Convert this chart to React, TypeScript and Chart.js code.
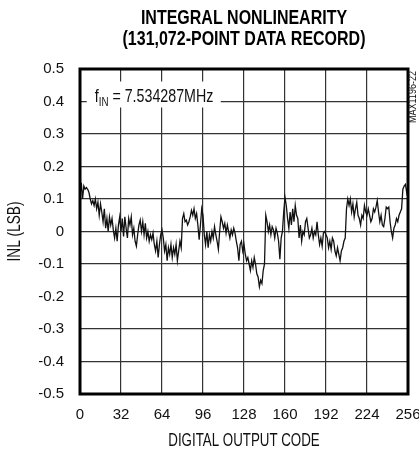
import { useEffect, useRef } from 'react';
import { Chart, registerables } from 'chart.js';

Chart.register(...registerables);

const TITLE_LINES = ['INTEGRAL NONLINEARITY', '(131,072-POINT DATA RECORD)'];
const X_TITLE = 'DIGITAL OUTPUT CODE';
const Y_TITLE = 'INL (LSB)';
const NOTE_MAIN = 'f';
const NOTE_SUB = 'IN';
const NOTE_REST = ' = 7.534287MHz';
const FIG_ID = 'MAX1196-22';

const X_TICKS = [0, 32, 64, 96, 128, 160, 192, 224, 256];
const Y_TICKS = [-0.5, -0.4, -0.3, -0.2, -0.1, 0, 0.1, 0.2, 0.3, 0.4, 0.5];
const Y_LABELS = ['-0.5', '-0.4', '-0.3', '-0.2', '-0.1', '0', '0.1', '0.2', '0.3', '0.4', '0.5'];

// INL value at each digital output code 0..256
const INL = [
  0.11, 0.15, 0.10, 0.14, 0.13, 0.135, 0.13, 0.12, 0.10, 0.085,
  0.095, 0.08, 0.10, 0.07, 0.09, 0.05, 0.085, 0.06, 0.03, 0.07,
  0.01, 0.04, 0.0, 0.045, 0.02, 0.04, 0.005, -0.02, 0.01, -0.03,
  0.02, 0.045, 0.0, 0.04, -0.015, 0.045, 0.01, -0.02, 0.04, 0.02,
  0.045, -0.01, 0.01, -0.03, -0.045, -0.01, 0.02, 0.035, 0.0, 0.03,
  -0.01, 0.025, -0.02, 0.0, -0.03, -0.01, -0.025, -0.005, -0.04, -0.06,
  -0.03, -0.08, -0.04, -0.01, 0.005, -0.02, -0.06, -0.04, -0.09, -0.05,
  -0.07, -0.04, -0.08, -0.05, -0.07, -0.04, -0.09, -0.06, -0.03, -0.05,
  0.04, 0.055, 0.03, 0.035, 0.02, 0.03, 0.045, 0.065, 0.05, 0.07,
  0.04, 0.055, 0.02, -0.025, 0.02, 0.07, 0.05, -0.01, -0.04, 0.0,
  -0.05, -0.01, -0.03, 0.0, -0.02, 0.015, -0.01, -0.03, -0.055, 0.0,
  0.045, 0.03, 0.01, 0.025, -0.005, 0.02, 0.0, -0.02, 0.005, -0.01,
  0.01, -0.005, -0.03, -0.05, -0.09, -0.04, -0.03, -0.06, -0.04, -0.07,
  -0.09, -0.08, -0.10, -0.12, -0.09, -0.11, -0.08, -0.10, -0.13, -0.14,
  -0.17, -0.15, -0.16, -0.12, -0.10, 0.05, 0.03, 0.0, 0.02, -0.01,
  0.015, 0.005, -0.02, 0.01, -0.005, -0.03, -0.085, -0.02, 0.0, 0.06,
  0.105, 0.08, 0.04, 0.01, 0.06, 0.02, 0.07, 0.03, 0.08, 0.05,
  0.04, -0.02, 0.02, -0.03, 0.0, -0.01, 0.03, 0.04, 0.01, -0.02,
  -0.01, 0.01, -0.02, 0.0, -0.01, 0.03, -0.01, -0.04, -0.02, -0.045,
  -0.005, 0.0, -0.01, -0.02, -0.05, -0.03, -0.055, -0.02, -0.03, -0.06,
  -0.075, -0.05, -0.07, -0.09, -0.06, -0.05, -0.03, -0.02, 0.07, 0.10,
  0.08, 0.10, 0.06, 0.085, 0.045, 0.07, 0.09, 0.05, 0.04, 0.02,
  0.05, 0.04, 0.08, 0.06, 0.05, 0.07, 0.05, 0.03, 0.04, 0.07,
  0.06, 0.075, 0.095, 0.06, 0.03, 0.05, 0.02, 0.015, 0.04, 0.075,
  0.07, 0.075, 0.03, 0.0, -0.02, 0.01, 0.02, 0.04, 0.03, 0.05,
  0.06, 0.07, 0.13, 0.14, 0.145, 0.12, 0.14,
];

const SANS = '"Liberation Sans", Arial, sans-serif';

function drawCondensed(ctx: any, text: string, x: number, y: number, font: string, sx: number, align: string) {
  ctx.save();
  ctx.font = font;
  ctx.textAlign = align;
  ctx.translate(x, y);
  ctx.scale(sx, 1);
  ctx.fillText(text, 0, 0);
  ctx.restore();
}

const decorPlugin = {
  id: 'decor',
  beforeDatasetsDraw(chart: any) {
    const { ctx, scales } = chart;
    const yLine = scales.y.getPixelForValue(0.4);
    const x0 = scales.x.getPixelForValue(11.5);
    const sx = 0.75;
    ctx.save();
    ctx.fillStyle = '#ffffff';
    ctx.fillRect(x0 - 8, yLine - 20, 134, 26);
    ctx.fillStyle = '#111';
    ctx.textBaseline = 'alphabetic';
    const base = yLine;
    const mainFont = `19px ${SANS}`;
    const subFont = `13px ${SANS}`;
    drawCondensed(ctx, NOTE_MAIN, x0, base, mainFont, sx, 'left');
    ctx.font = mainFont;
    let x = x0 + ctx.measureText(NOTE_MAIN).width * sx;
    drawCondensed(ctx, NOTE_SUB, x, base + 4, subFont, sx, 'left');
    ctx.font = subFont;
    x += ctx.measureText(NOTE_SUB).width * sx;
    drawCondensed(ctx, NOTE_REST, x, base, mainFont, sx, 'left');
    ctx.restore();
  },
  afterDraw(chart: any) {
    const { ctx, chartArea } = chart;
    const { left, right, top, bottom } = chartArea;
    const cx = (left + right) / 2;
    ctx.save();
    ctx.strokeStyle = '#000';
    ctx.lineWidth = 3;
    ctx.strokeRect(left, top, right - left, bottom - top);

    ctx.fillStyle = '#000';
    ctx.textBaseline = 'middle';
    drawCondensed(ctx, TITLE_LINES[0], cx, 18, `bold 20px ${SANS}`, 0.8, 'center');
    drawCondensed(ctx, TITLE_LINES[1], cx, 39, `bold 20px ${SANS}`, 0.8, 'center');

    ctx.fillStyle = '#111';
    drawCondensed(ctx, X_TITLE, cx, 441, `18px ${SANS}`, 0.74, 'center');

    ctx.save();
    ctx.translate(15, (top + bottom) / 2);
    ctx.rotate(-Math.PI / 2);
    drawCondensed(ctx, Y_TITLE, 0, 0, `18px ${SANS}`, 0.76, 'center');
    ctx.restore();

    ctx.save();
    ctx.translate(413, 97);
    ctx.rotate(-Math.PI / 2);
    drawCondensed(ctx, FIG_ID, 0, 0, `11px ${SANS}`, 0.82, 'center');
    ctx.restore();
    ctx.restore();
  },
};

export default function App() {
  const ref = useRef<HTMLCanvasElement>(null);

  useEffect(() => {
    const canvas = ref.current;
    if (!canvas) return;
    const chart = new Chart(canvas, {
      type: 'line',
      data: {
        datasets: [
          {
            data: INL.map((v, i) => ({ x: i, y: v })),
            borderColor: '#111',
            borderWidth: 1.3,
            pointRadius: 0,
            fill: false,
            tension: 0,
          },
        ],
      },
      options: {
        animation: false,
        responsive: false,
        layout: { padding: { top: 69, right: 11, left: 0, bottom: 0 } },
        plugins: {
          legend: { display: false },
          tooltip: { enabled: false },
          title: { display: false },
        },
        scales: {
          x: {
            type: 'linear',
            min: 0,
            max: 256,
            afterFit: (s: any) => {
              s.height = 60;
              s.paddingLeft = 0;
              s.paddingRight = 0;
            },
            afterBuildTicks: (s: any) => {
              s.ticks = X_TICKS.map((v) => ({ value: v }));
            },
            ticks: {
              padding: 12,
              color: '#111',
              font: { family: SANS, size: 15 },
              maxRotation: 0,
              autoSkip: false,
            },
            grid: { color: '#333', lineWidth: 1.2, drawTicks: false },
            border: { display: false },
          },
          y: {
            type: 'linear',
            min: -0.5,
            max: 0.5,
            afterFit: (s: any) => {
              s.width = 80;
              s.paddingTop = 0;
              s.paddingBottom = 0;
            },
            afterBuildTicks: (s: any) => {
              s.ticks = Y_TICKS.map((v) => ({ value: v }));
            },
            ticks: {
              padding: 16,
              color: '#111',
              font: { family: SANS, size: 15 },
              autoSkip: false,
              callback: (_v: any, i: number) => Y_LABELS[i],
            },
            grid: { color: '#333', lineWidth: 1.2, drawTicks: false },
            border: { display: false },
          },
        },
      },
      plugins: [decorPlugin],
    });
    return () => chart.destroy();
  }, []);

  return (
    <div style={{ position: 'fixed', left: 0, top: 0, width: 419, height: 454, background: '#fff' }}>
      <canvas ref={ref} width={419} height={454} style={{ display: 'block' }} />
    </div>
  );
}
